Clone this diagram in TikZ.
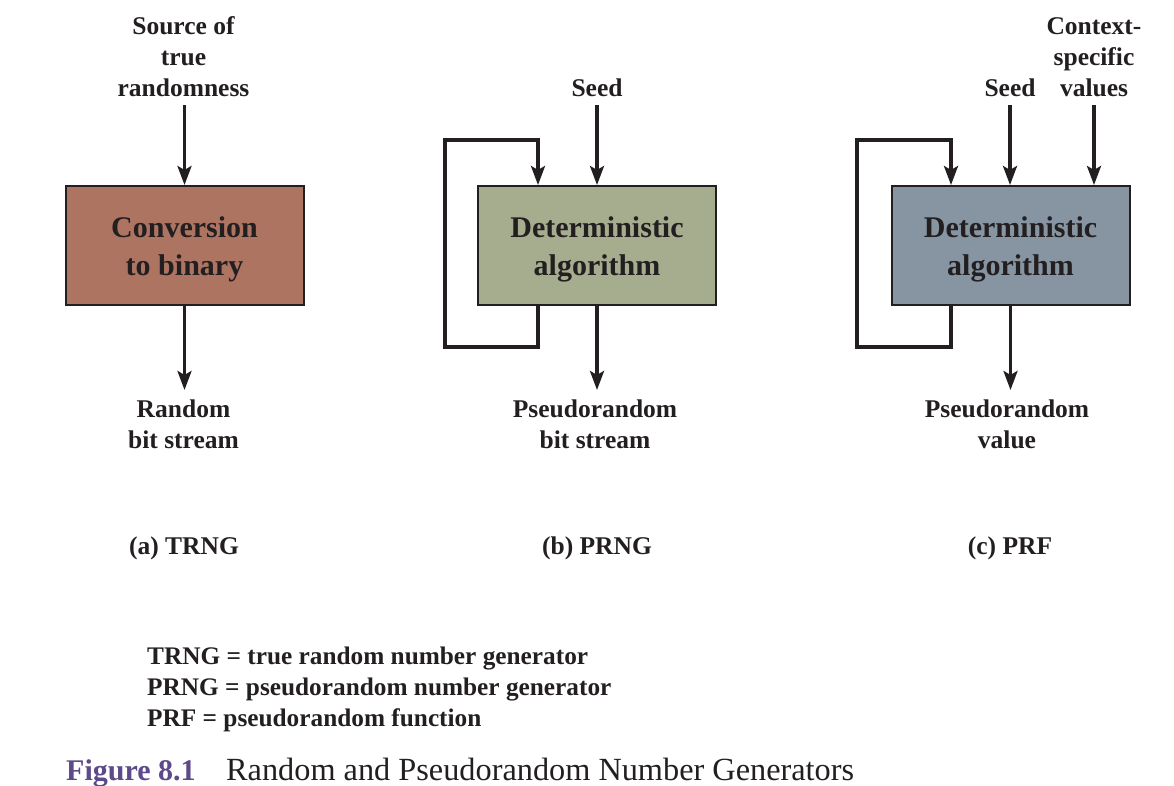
\documentclass[tikz,border=0pt]{standalone}
\usepackage{fontspec}
\setmainfont{Liberation Serif}
\usetikzlibrary{arrows.meta}
\definecolor{trngfill}{RGB}{173,116,98}
\definecolor{prngfill}{RGB}{166,173,142}
\definecolor{prffill}{RGB}{135,149,163}
\definecolor{figpurple}{RGB}{93,74,138}
\definecolor{ink}{RGB}{35,31,32}
\begin{document}
\begin{tikzpicture}[x=1pt,y=-1pt,
  box/.style={draw=ink, line width=2pt, minimum width=238pt, minimum height=119pt, inner sep=0pt},
  boxtext/.style={inner sep=0pt, align=center, font=\fontsize{30}{38}\selectfont\bfseries, text=ink},
  lbl/.style={align=center, font=\fontsize{25.5}{31}\selectfont\bfseries, inner xsep=0pt, text=ink},
  toplbl/.style={lbl, anchor=south, inner ysep=8pt},
  botlbl/.style={lbl, anchor=north, inner ysep=10pt},
  sublbl/.style={lbl, anchor=base, inner sep=0pt},
  legendtxt/.style={anchor=base west, inner sep=0pt, font=\fontsize{25.3}{31}\selectfont\bfseries, text=ink},
  arr/.style={draw=ink, line width=3.3pt, line join=miter,
    -{Stealth[length=19pt,width=14pt,inset=4pt]}}
]
\fill[white] (0,0) rectangle (1174,785);
\useasboundingbox (0,0) rectangle (1174,785);

% (a) TRNG
\node[box, fill=trngfill] (a) at (184.5,245.5) {};
\node[boxtext] (at) at ([yshift=-4pt]a.center) {Conversion\\to binary};
\node[toplbl] (ain) at (183.5,105) {Source of\\true\\randomness};
\node[botlbl] (aout) at (183.5,390) {Random\\bit stream};
\draw[arr] (ain.south -| a.north) -- (a.north);
\draw[arr] (a.south) -- (a.south |- aout.north);
\node[sublbl] (acap) at (184,554) {(a) TRNG};

% (b) PRNG
\node[box, fill=prngfill] (b) at (597,245.5) {};
\node[boxtext] (bt) at ([yshift=-4pt]b.center) {Deterministic\\algorithm};
\node[toplbl] (bseed) at (597,105) {Seed};
\node[botlbl] (bout) at (595,390) {Pseudorandom\\bit stream};
\coordinate (bL1) at (445,347);
\coordinate (bL2) at (445,140);
\draw[arr] (bseed.south) -- (b.north);
\draw[arr] (b.south) -- (b.south |- bout.north);
\draw[arr] ([xshift=-59pt]b.south) |- (bL1) -- (bL2) -| ([xshift=-59pt]b.north);
\node[sublbl] (bcap) at (597,554) {(b) PRNG};

% (c) PRF
\node[box, fill=prffill] (c) at (1010.5,245.5) {};
\node[boxtext] (ct) at ([yshift=-4pt]c.center) {Deterministic\\algorithm};
\node[toplbl] (cseed) at (1010,105) {Seed};
\node[toplbl] (cctx) at (1094,105) {Context-\\specific\\values};
\node[botlbl] (cout) at (1007,390) {Pseudorandom\\value};
\coordinate (cL1) at (857,347);
\coordinate (cL2) at (857,140);
\draw[arr] (cseed.south) -- (cseed.south |- c.north);
\draw[arr] (cctx.south) -- (cctx.south |- c.north);
\draw[arr] (c.south) -- (c.south |- cout.north);
\draw[arr] ([xshift=-59.5pt]c.south) |- (cL1) -- (cL2) -| ([xshift=-59.5pt]c.north);
\node[sublbl] (ccap) at (1010,554) {(c) PRF};

% legend
\node[legendtxt] (l1) at (147,664) {TRNG = true random number generator};
\node[legendtxt] (l2) at (147,695) {PRNG = pseudorandom number generator};
\node[legendtxt] (l3) at (147,726) {PRF = pseudorandom function};

% caption
\node[anchor=base west, inner sep=0pt, font=\fontsize{30}{36}\selectfont\bfseries, text=figpurple] (fig) at (66,780) {Figure 8.1};
\node[anchor=base west, inner sep=0pt, font=\fontsize{32.3}{36}\selectfont, text=ink] (figtxt) at (226,780) {Random and Pseudorandom Number Generators};
\end{tikzpicture}
\end{document}
